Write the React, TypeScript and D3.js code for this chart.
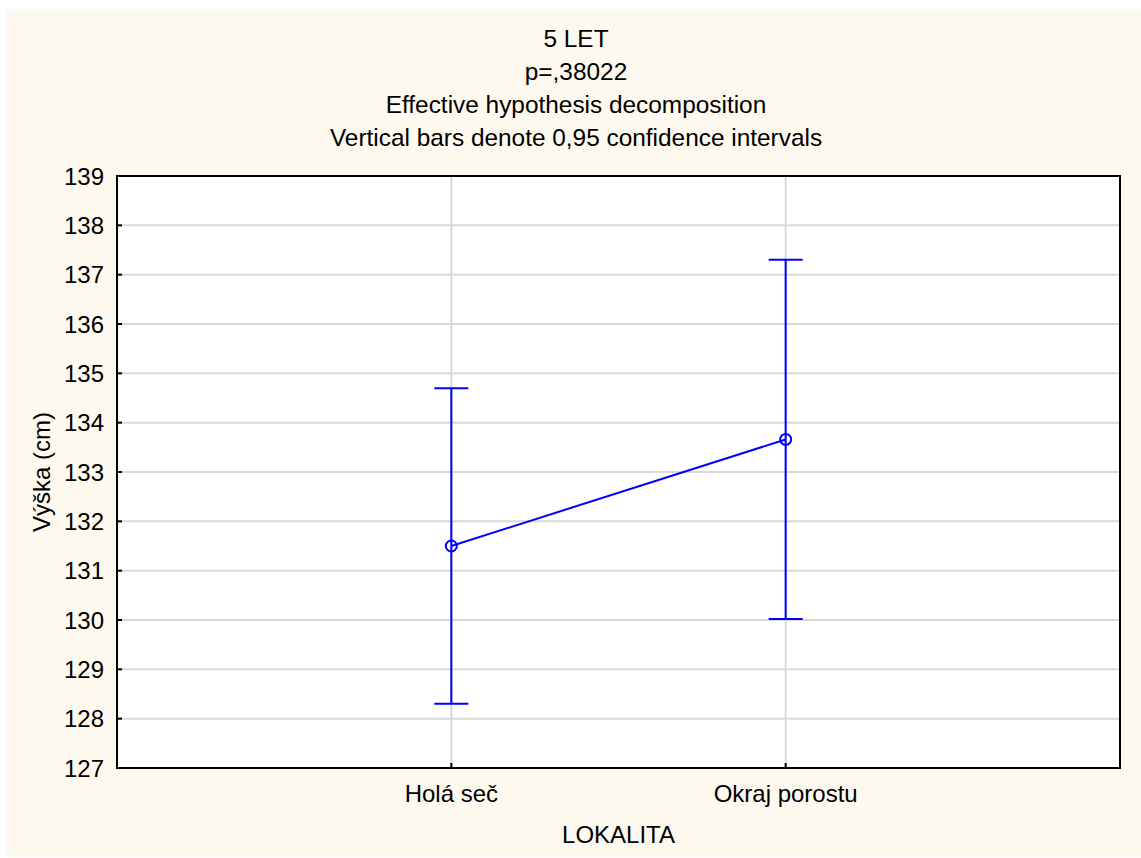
import React, { useEffect } from "react";
import * as d3 from "d3";

const categories = ["Holá seč", "Okraj porostu"];
const means = [131.5, 133.66];
const lower = [128.3, 130.02];
const upper = [134.7, 137.3];
const yTicks = [127, 128, 129, 130, 131, 132, 133, 134, 135, 136, 137, 138, 139];
const titleLines = [
  "5 LET",
  "p=,38022",
  "Effective hypothesis decomposition",
  "Vertical bars denote 0,95 confidence intervals",
];
const yLabel = "Výška (cm)";
const xLabel = "LOKALITA";

const W = 1141;
const H = 858;
const M = { left: 117, right: 1120, top: 176, bottom: 768 };
const FONT = "'Liberation Sans', Arial, sans-serif";
const BLUE = "#0000ff";
const FS = 24;
const TFS = 24.4;

export default function App() {
  useEffect(() => {
    document.body.style.margin = "0";
  }, []);
  const x = d3.scalePoint<string>().domain(categories).range([M.left, M.right]).padding(1);
  const y = d3.scaleLinear().domain([127, 139]).range([M.bottom, M.top]);
  const line = d3
    .line<number>()
    .x((_, i) => x(categories[i]) as number)
    .y((d) => y(d));
  const titleY = [47, 80, 113, 146];
  return (
    <svg width={W} height={H} style={{ display: "block", background: "#fff" }} fontFamily={FONT}>
      <rect x={7} y={9} width={W - 7} height={848} fill="#fef9ef" />
      {titleLines.map((t, i) => (
        <text key={i} x={576} y={titleY[i]} textAnchor="middle" fontSize={TFS} fill="#000">
          {t}
        </text>
      ))}
      <rect x={M.left} y={M.top} width={M.right - M.left} height={M.bottom - M.top} fill="#fff" />
      {yTicks.map((t) => (
        <g key={t}>
          {t !== 127 && t !== 139 && (
            <line x1={M.left} x2={M.right} y1={y(t)} y2={y(t)} stroke="#d9d9d9" strokeWidth={2} />
          )}
          <line x1={M.left} x2={M.left + 5} y1={y(t)} y2={y(t)} stroke="#000" strokeWidth={2} />
          <text x={104} y={y(t) + 8.5} textAnchor="end" fontSize={FS} fill="#000">
            {t}
          </text>
        </g>
      ))}
      {categories.map((c) => (
        <g key={c}>
          <line x1={x(c)} x2={x(c)} y1={M.top} y2={M.bottom} stroke="#d9d9d9" strokeWidth={2} />
          <line x1={x(c)} x2={x(c)} y1={M.bottom} y2={M.bottom - 5} stroke="#000" strokeWidth={2} />
          <text x={x(c)} y={802} textAnchor="middle" fontSize={FS} fill="#000">
            {c}
          </text>
        </g>
      ))}
      <rect
        x={M.left}
        y={M.top}
        width={M.right - M.left}
        height={M.bottom - M.top}
        fill="none"
        stroke="#000"
        strokeWidth={2}
      />
      <text
        transform={`translate(50,${(M.top + M.bottom) / 2}) rotate(-90)`}
        textAnchor="middle"
        fontSize={FS}
        fill="#000"
      >
        {yLabel}
      </text>
      <text x={(M.left + M.right) / 2} y={843} textAnchor="middle" fontSize={FS} fill="#000">
        {xLabel}
      </text>
      {categories.map((c, i) => {
        const cx = x(c) as number;
        return (
          <g key={c} stroke={BLUE} strokeWidth={2} fill="none">
            <line x1={cx} x2={cx} y1={y(lower[i])} y2={y(upper[i])} />
            <line x1={cx - 17} x2={cx + 17} y1={y(upper[i])} y2={y(upper[i])} />
            <line x1={cx - 17} x2={cx + 17} y1={y(lower[i])} y2={y(lower[i])} />
          </g>
        );
      })}
      <path d={line(means) || ""} stroke={BLUE} strokeWidth={2} fill="none" />
      {categories.map((c, i) => (
        <circle key={c} cx={x(c)} cy={y(means[i])} r={5.5} stroke={BLUE} strokeWidth={2} fill="none" />
      ))}
    </svg>
  );
}
